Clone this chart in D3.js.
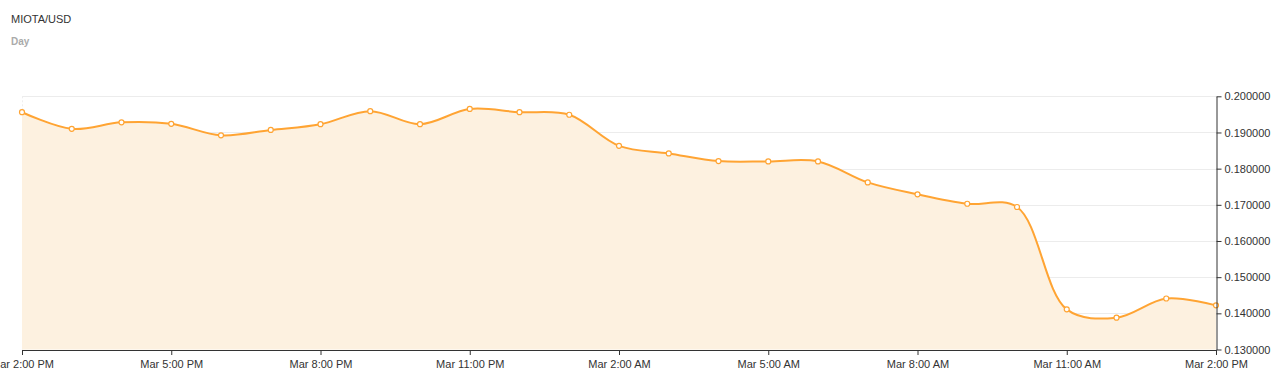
<!DOCTYPE html>
<html>
<head>
<meta charset="utf-8">
<script src="https://cdn.jsdelivr.net/npm/d3@7"></script>
<style>
  body { margin: 0; background: #fff; }
  svg { display: block; font-family: "Liberation Sans", Arial, sans-serif; }
</style>
</head>
<body>
<svg id="chart" width="1286" height="382"></svg>
<script>
// ---- data ----
const title = "MIOTA/USD";
const subtitle = "Day";
const startTime = new Date(2018, 2, 1, 14, 0); // hourly series starting 2:00 PM
const prices = [0.1956, 0.1910, 0.1928, 0.1924, 0.1892, 0.1907, 0.1923, 0.1959, 0.1923,
                0.1965, 0.1956, 0.1949, 0.1863, 0.1842, 0.1821, 0.1820, 0.1820, 0.1762,
                0.1729, 0.1703, 0.1694, 0.1411, 0.1388, 0.1441, 0.1422];
const xTickEvery = 3; // hours between x tick labels
const yTicks = [0.13, 0.14, 0.15, 0.16, 0.17, 0.18, 0.19, 0.20];

const times = prices.map((_, i) => d3.timeHour.offset(startTime, i));
const data = prices.map((v, i) => ({ t: times[i], v }));
const xTickValues = times.filter((_, i) => i % xTickEvery === 0);

// ---- layout ----
const svg = d3.select("#chart");
const plotLeft = 22, plotRight = 1216, plotTop = 96.3, plotBottom = 349.5;

const x = d3.scaleTime().domain([times[0], times[times.length - 1]]).range([plotLeft, plotRight]);
const y = d3.scaleLinear().domain([0.13, 0.20]).range([plotBottom, plotTop]);

// title
svg.append("text").attr("x", 11).attr("y", 23).attr("font-size", 11)
  .attr("fill", "#333").text(title);
svg.append("text").attr("x", 11).attr("y", 45).attr("font-size", 10)
  .attr("font-weight", "bold").attr("fill", "#aaa").text(subtitle);

// gridlines
svg.append("g").selectAll("line").data(yTicks.slice(1)).join("line")
  .attr("x1", plotLeft).attr("x2", plotRight)
  .attr("y1", d => Math.round(y(d)) + 0.5).attr("y2", d => Math.round(y(d)) + 0.5)
  .attr("stroke", "#ececec").attr("stroke-width", 1);
svg.append("line").attr("x1", plotLeft + 0.5).attr("x2", plotLeft + 0.5)
  .attr("y1", y(0.20)).attr("y2", plotBottom)
  .attr("stroke", "#eee").attr("stroke-dasharray", "2,2");

// area + line
const curve = d3.curveCatmullRom.alpha(0.5);
svg.append("path").datum(data)
  .attr("d", d3.area().x(d => x(d.t)).y0(plotBottom).y1(d => y(d.v)).curve(curve))
  .attr("fill", "#fdf1e0");
svg.append("path").datum(data)
  .attr("d", d3.line().x(d => x(d.t)).y(d => y(d.v)).curve(curve))
  .attr("fill", "none").attr("stroke", "#ffa433").attr("stroke-width", 2);

// points
svg.append("g").selectAll("circle").data(data).join("circle")
  .attr("cx", d => x(d.t)).attr("cy", d => y(d.v)).attr("r", 2.5)
  .attr("fill", "#fff").attr("stroke", "#ffa433").attr("stroke-width", 1.2);

// axes
const fmt = d3.timeFormat("%b %-I:%M %p");
const xAxis = svg.append("g").attr("transform", `translate(0,${plotBottom + 0.5})`)
  .call(d3.axisBottom(x).tickValues(xTickValues).tickFormat(fmt).tickSize(5).tickSizeOuter(0));
const yAxis = svg.append("g").attr("transform", `translate(${plotRight + 0.5},0)`)
  .call(d3.axisRight(y).tickValues(yTicks).tickFormat(d3.format(".6f")).tickSize(5).tickSizeOuter(0));

[xAxis, yAxis].forEach(g => {
  g.select(".domain").attr("stroke", "#333");
  g.selectAll(".tick line").attr("stroke", "#333");
  g.selectAll("text").attr("fill", "#333").attr("font-size", 11)
    .attr("font-family", "'Liberation Sans', Arial, sans-serif");
});
xAxis.selectAll("text").attr("dy", "0.95em");
yAxis.selectAll("text").attr("x", 8);
</script>
</body>
</html>
